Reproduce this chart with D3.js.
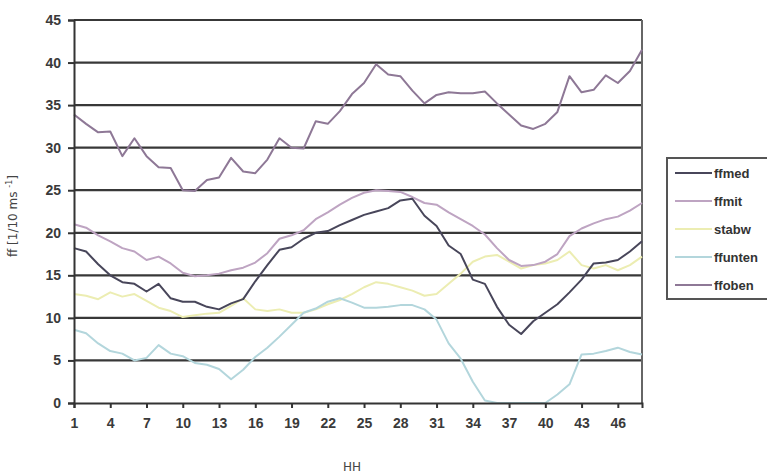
<!DOCTYPE html>
<html>
<head>
<meta charset="utf-8">
<script src="https://cdn.jsdelivr.net/npm/d3@7"></script>
<style>
html,body{margin:0;padding:0;background:#fff;}
svg{display:block;}
</style>
</head>
<body>
<svg id="chart" width="767" height="473"></svg>
<script>
// ---- data ----
const hours = d3.range(1, 49);
const seriesNames = ["ffmed", "ffmit", "stabw", "ffunten", "ffoben"];
const seriesColors = ["#48465a", "#bea4c2", "#ecedb2", "#b3d6dc", "#8e7896"];
const ffmed = [18.2,17.8,16.3,15.0,14.2,14.0,13.1,14.0,12.3,11.9,11.9,11.3,11.0,11.7,12.2,14.3,16.2,18.0,18.3,19.3,20.0,20.2,20.9,21.5,22.1,22.5,22.9,23.8,24.0,22.0,20.8,18.5,17.5,14.5,14.0,11.3,9.2,8.1,9.6,10.6,11.6,13.0,14.5,16.4,16.5,16.8,17.8,19.0];
const ffmit = [21.0,20.6,19.7,19.0,18.2,17.8,16.8,17.2,16.4,15.3,14.9,15.0,15.2,15.6,15.9,16.5,17.6,19.3,19.7,20.3,21.6,22.4,23.3,24.1,24.7,25.0,24.9,24.8,24.2,23.5,23.3,22.4,21.6,20.8,19.8,18.2,16.8,16.1,16.2,16.6,17.5,19.6,20.5,21.1,21.6,21.9,22.6,23.5];
const stabw = [12.8,12.6,12.2,13.0,12.5,12.8,12.0,11.2,10.8,10.1,10.3,10.5,10.6,11.4,12.3,11.0,10.8,11.0,10.6,10.6,11.0,11.6,12.1,12.8,13.6,14.2,14.0,13.6,13.2,12.6,12.8,14.0,15.2,16.6,17.2,17.4,16.6,15.8,16.2,16.4,16.8,17.8,16.2,15.8,16.2,15.6,16.2,17.2];
const ffunten = [8.6,8.2,7.0,6.1,5.8,5.0,5.3,6.8,5.8,5.5,4.7,4.5,4.0,2.8,3.9,5.4,6.5,7.8,9.2,10.6,11.1,11.9,12.3,11.8,11.2,11.2,11.3,11.5,11.5,11.0,9.8,7.0,5.2,2.5,0.3,0,0,0,0,0,1.0,2.2,5.7,5.8,6.1,6.5,6.0,5.7];
const ffoben = [33.9,32.8,31.8,31.9,29.0,31.1,29.0,27.7,27.6,25.0,24.9,26.2,26.5,28.8,27.2,27.0,28.6,31.1,30.0,29.9,33.1,32.8,34.3,36.3,37.6,39.8,38.6,38.4,36.7,35.2,36.2,36.5,36.4,36.4,36.6,35.2,33.9,32.6,32.2,32.8,34.2,38.4,36.5,36.8,38.5,37.6,39.0,41.5];
const yTicks = [0,5,10,15,20,25,30,35,40,45];
const xTickLabels = [1,4,7,10,13,16,19,22,25,28,31,34,37,40,43,46];
const yTitle = "ff [1/10 ms ";
const ySup = "-1";
const xTitle = "HH";

const seriesValues = [ffmed, ffmit, stabw, ffunten, ffoben];
// draw order: lighter first so dark lines sit on top
const drawOrder = [2, 3, 1, 4, 0];

// ---- layout ----
const svg = d3.select("#chart");
const L = 74, R = 642, T = 20, B = 403;

const x = d3.scalePoint().domain(hours).range([L, R]);
const y = d3.scaleLinear().domain([0, 45]).range([B, T]);

// gridlines
svg.append("g").selectAll("line").data(yTicks.filter(d => d > 0)).join("line")
  .attr("x1", L).attr("x2", R)
  .attr("y1", d => y(d)).attr("y2", d => y(d))
  .attr("stroke", "#383838").attr("stroke-width", 2.2);

// right border
svg.append("line").attr("x1", R).attr("x2", R).attr("y1", T).attr("y2", B)
  .attr("stroke", "#666").attr("stroke-width", 2);

// series lines
const line = d3.line().x((d, i) => x(hours[i])).y(d => y(d));
drawOrder.forEach(k => {
  svg.append("path").datum(seriesValues[k])
    .attr("fill", "none")
    .attr("stroke", seriesColors[k])
    .attr("stroke-width", 2)
    .attr("stroke-linejoin", "round")
    .attr("d", line);
});

// y axis
const yAxis = svg.append("g").attr("transform", `translate(${L},0)`)
  .call(d3.axisLeft(y).tickValues(yTicks).tickSize(6).tickPadding(6));
yAxis.select(".domain").attr("stroke", "#333").attr("stroke-width", 2);
yAxis.selectAll(".tick line").attr("stroke", "#333").attr("stroke-width", 2);
yAxis.selectAll(".tick text")
  .attr("font-family", "'Liberation Sans', Arial, sans-serif")
  .attr("font-weight", "bold").attr("font-size", 14).attr("fill", "#3a3a3a")
  .attr("x", -13);

// x axis
const xAxis = svg.append("g").attr("transform", `translate(0,${B})`)
  .call(d3.axisBottom(x).tickValues(xTickLabels).tickSize(5).tickPadding(10));
xAxis.select(".domain").attr("stroke", "#333").attr("stroke-width", 2);
xAxis.selectAll(".tick line").attr("stroke", "#333").attr("stroke-width", 2);
xAxis.selectAll(".tick text")
  .attr("font-family", "'Liberation Sans', Arial, sans-serif")
  .attr("font-weight", "bold").attr("font-size", 14).attr("fill", "#3a3a3a");

// axis titles
const yt = svg.append("text")
  .attr("transform", "translate(17,216) rotate(-90)")
  .attr("text-anchor", "middle")
  .attr("font-family", "'DejaVu Sans', sans-serif")
  .attr("font-size", 12).attr("fill", "#444");
yt.append("tspan").text(yTitle);
yt.append("tspan").attr("font-size", 8).attr("dy", -5).text(ySup);
yt.append("tspan").attr("dy", 5).text("]");

svg.append("text").attr("x", 352).attr("y", 471)
  .attr("text-anchor", "middle")
  .attr("font-family", "'DejaVu Sans', sans-serif")
  .attr("font-size", 12).attr("fill", "#444").text(xTitle);

// legend
const lg = svg.append("g");
lg.append("rect").attr("x", 667).attr("y", 158).attr("width", 120).attr("height", 141)
  .attr("fill", "#fff").attr("stroke", "#555").attr("stroke-width", 2);
const legY = d3.scalePoint().domain(seriesNames).range([173, 285]);
seriesNames.forEach((n, k) => {
  lg.append("line").attr("x1", 675).attr("x2", 712)
    .attr("y1", legY(n)).attr("y2", legY(n))
    .attr("stroke", seriesColors[k]).attr("stroke-width", 2);
  lg.append("text").attr("x", 714).attr("y", legY(n)).attr("dy", "0.35em")
    .attr("font-family", "'Liberation Sans', Arial, sans-serif")
    .attr("font-weight", "bold").attr("font-size", 13).attr("fill", "#333")
    .text(n);
});
</script>
</body>
</html>
